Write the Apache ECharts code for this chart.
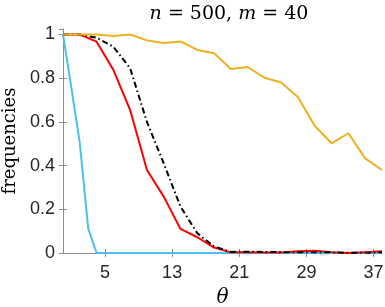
<!DOCTYPE html>
<html>
<head>
<meta charset="utf-8">
<script src="https://cdn.jsdelivr.net/npm/echarts@6/dist/echarts.min.js"></script>
<style>
html,body{margin:0;padding:0;background:#fff;}
#chart{width:385px;height:307px;}
</style>
</head>
<body>
<div id="chart"></div>
<script>
// θ grid for the blue curve (every integer) and for the other curves (every even value)
const thetaBlue = [0,1,2,3,4,5,6,7,8,9,10,11,12,13,14,15,16,17,18,19,20,21,22,23,24,25,26,27,28,29,30,31,32,33,34,35,36,37,38];
const thetaEven = [0,2,4,6,8,10,12,14,16,18,20,22,24,26,28,30,32,34,36,38];

const blueValues = [1,0.755,0.503,0.113,0,0,0,0,0,0,0,0,0,0,0,0,0,0,0,0,0,0,0,0,0,0,0,0,0,0,0,0,0,0,0,0,0,0,0];
const redValues = [1,1,0.967,0.838,0.654,0.38,0.258,0.11,0.072,0.025,0.003,0.003,0.002,0.002,0.008,0.01,0.004,0.0,0.004,0.008];
const blackValues = [1,1,0.985,0.944,0.845,0.6,0.41,0.212,0.09,0.03,0.005,0.006,0.005,0.004,0.004,0.004,0.003,0.001,0.001,0.003];
const orangeValues = [1,1,1,0.993,1.0,0.973,0.961,0.968,0.929,0.914,0.842,0.851,0.802,0.78,0.713,0.581,0.502,0.548,0.433,0.38];

const xTicks = [5,13,21,29,37];

const pair = (xs, ys) => xs.map((x, i) => [x, ys[i]]);

const axisColor = '#8c8c8c';
const labelColor = '#262626';
const sansFont = 'Liberation Sans';
const serifFont = 'DejaVu Serif';

const chart = echarts.init(document.getElementById('chart'), null, {renderer: 'canvas'});
chart.setOption({
  animation: false,
  backgroundColor: '#fff',
  title: {
    text: '{i|n} = 500, {i|m} = 40',
    left: 224, top: 0, textAlign: 'center',
    textStyle: {
      fontFamily: serifFont, fontSize: 19, color: '#000', fontWeight: 'normal',
      rich: { i: { fontFamily: serifFont, fontStyle: 'italic', fontSize: 19, color: '#000' } }
    }
  },
  grid: { left: 63, right: 3, top: 29, bottom: 54, containLabel: false, outerBoundsMode: 'none' },
  xAxis: [{
    type: 'value', min: 0, max: 38, position: 'bottom',
    name: 'θ', nameLocation: 'middle', nameGap: 35,
    nameTextStyle: { fontFamily: serifFont, fontStyle: 'italic', fontSize: 20, color: '#000' },
    axisLine: { show: true, lineStyle: { color: axisColor, width: 1 } },
    axisTick: { show: true, inside: true, length: 4, customValues: xTicks, lineStyle: { color: axisColor } },
    axisLabel: { customValues: xTicks, fontFamily: sansFont, fontSize: 18, color: labelColor, margin: 11 },
    splitLine: { show: false }
  }, {
    type: 'value', min: 0, max: 38, position: 'top',
    axisLine: { show: true, lineStyle: { color: axisColor, width: 1 } },
    axisTick: { show: true, inside: true, length: 4, customValues: xTicks, lineStyle: { color: axisColor } },
    axisLabel: { show: false },
    splitLine: { show: false }
  }],
  yAxis: [{
    type: 'value', min: 0, max: 1.025, interval: 0.2, position: 'left',
    name: 'frequencies', nameLocation: 'middle', nameGap: 41, nameRotate: 90,
    nameTextStyle: { fontFamily: serifFont, fontSize: 18, color: '#000' },
    axisLine: { show: true, lineStyle: { color: axisColor, width: 1 } },
    axisTick: { show: true, inside: true, length: 4, lineStyle: { color: axisColor } },
    axisLabel: { showMaxLabel: false, fontFamily: sansFont, fontSize: 18, color: labelColor, margin: 8 },
    splitLine: { show: false }
  }, {
    type: 'value', min: 0, max: 1.025, interval: 0.2, position: 'right',
    axisLine: { show: true, lineStyle: { color: axisColor, width: 1 } },
    axisTick: { show: true, inside: true, length: 4, lineStyle: { color: axisColor } },
    axisLabel: { show: false },
    splitLine: { show: false }
  }],
  series: [
    { type: 'line', name: 'blue', data: pair(thetaBlue, blueValues), showSymbol: false,
      lineStyle: { color: '#4DBEEE', width: 2 }, itemStyle: { color: '#4DBEEE' }, z: 2 },
    { type: 'line', name: 'red', data: pair(thetaEven, redValues), showSymbol: false,
      lineStyle: { color: '#FF0000', width: 2 }, itemStyle: { color: '#FF0000' }, z: 3 },
    { type: 'line', name: 'black', data: pair(thetaEven, blackValues), showSymbol: false,
      lineStyle: { color: '#000000', width: 2, type: [6, 3, 1.5, 3] }, itemStyle: { color: '#000' }, z: 4 },
    { type: 'line', name: 'orange', data: pair(thetaEven, orangeValues), showSymbol: false,
      lineStyle: { color: '#EDB120', width: 2 }, itemStyle: { color: '#EDB120' }, z: 5 }
  ]
});
</script>
</body>
</html>
